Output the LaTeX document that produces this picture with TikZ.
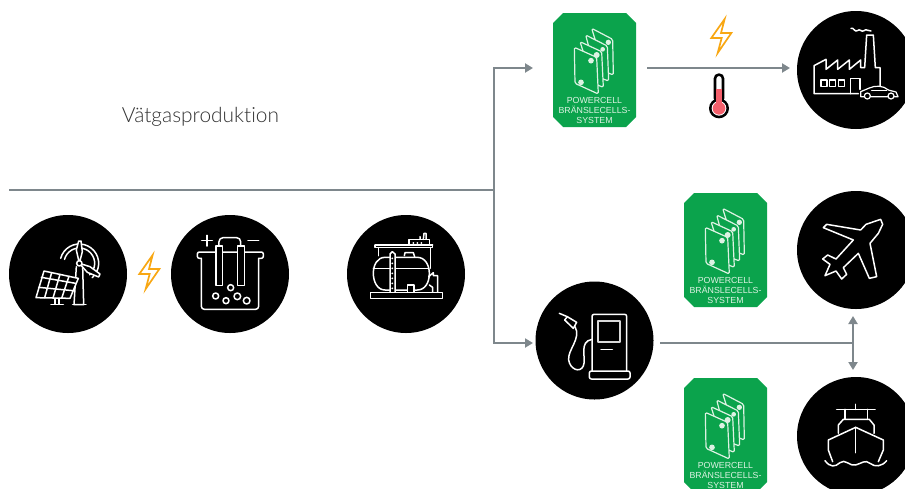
\documentclass[tikz,border=0pt]{standalone}
\usepackage{fontspec}
\setmainfont{Lato Light}[BoldFont=Lato,Ligatures=NoCommon]
\newfontfamily\cellfont{Liberation Sans}
\usetikzlibrary{arrows.meta}
\definecolor{flowgrey}{HTML}{7E878C}
\definecolor{cellgreen}{HTML}{0BA34C}
\definecolor{boltorange}{HTML}{F8A713}
\definecolor{thermred}{HTML}{F4606C}
\definecolor{celltext}{HTML}{DDF2E3}
\tikzset{
  disc/.style={circle,fill=black,draw=none,minimum size=118pt,inner sep=0pt},
  flow/.style={draw=flowgrey,line width=2.2pt},
  tip/.style={-{Triangle[length=8pt,width=9pt]}},
  tiptwo/.style={{Triangle[length=8pt,width=9pt]}-{Triangle[length=8pt,width=9pt]}},
  icon/.style={draw=white,line width=1.5pt,line join=round,line cap=round},
  iconfill/.style={icon,fill=black},
  celltxt/.style={font=\cellfont\fontsize{8.8pt}{9pt}\selectfont,text=celltext,inner sep=0pt,anchor=center},
  fuelcell/.pic={
    \fill[cellgreen] (33,13) -- (96,13) -- (106,23) -- (106,117) -- (96,127) -- (33,127) -- (23,117) -- (23,23) -- cycle;
    \coordinate (box) at (64.5,70);
    \begin{scope}[scale=1/3]
      \foreach \p in {
        {(185,85)--(248,118)--(250,225)--(225,215)},
        {(167,105)--(232,138)--(236,243)--(200,230)},
        {(150,125)--(215,155)--(220,262)--(190,250)}}{
        \draw[draw=celltext,line width=1.2pt,line join=round,fill=cellgreen,rounded corners=1.5pt] \p -- cycle;
      }
      \draw[draw=celltext,line width=1.2pt,line join=round,fill=cellgreen,rounded corners=1.5pt]
        (133,142)--(200,172)--(205,282)--(135,250)--cycle;
      \fill[celltext] (183,182) circle (8.5) (153,247) circle (8.5) (200,165) circle (9) (218,148) circle (7) (235,127) circle (8);
    \end{scope}
    \node[celltxt] (l1) at (64.5,100) {POWERCELL};
    \node[celltxt] (l2) at (64.5,110) {BRÄNSLECELLS-};
    \node[celltxt] (l3) at (64.5,120) {SYSTEM};
  },
  boltpic/.pic={
    \begin{scope}[scale=1/3]
      \draw[draw=boltorange,line width=1.7pt,line join=miter]
        (458,165)--(418,222)--(449,222)--(437,267)--(478,207)--(447,207)--cycle;
    \end{scope}
  }
}
\begin{document}
\begin{tikzpicture}[x=1pt,y=-1pt]
\useasboundingbox (0,0) rectangle (905,488);
\clip (0,0) rectangle (905,488);

% named anchors
\coordinate (mainstart) at (9,190);
\coordinate (junction) at (494,190);
\coordinate (tipcell) at (533,68);
\coordinate (tippump) at (533,343);
\coordinate (cellout) at (647,68);
\coordinate (tipfactory) at (790,68);
\coordinate (pumpout) at (660,343);
\coordinate (fork) at (853,343);
\coordinate (tipup) at (853,316);
\coordinate (tipdown) at (853,370);

% discs
\node[disc] (solar) at (68,274) {};
\node[disc] (electro) at (230,274) {};
\node[disc] (storage) at (406,274) {};
\node[disc] (factory) at (856,70) {};
\node[disc] (pump) at (594.5,340.5) {};
\node[disc] (plane) at (856,250) {};
\node[disc] (ship) at (856,436) {};

% connectors
\draw[flow] (mainstart) -- (junction);
\draw[flow,tip] (junction) |- (tipcell);
\draw[flow,tip] (junction) |- (tippump);
\draw[flow,tip] (cellout) -- (tipfactory);
\draw[flow] (pumpout) -- (fork);
\draw[flow,tiptwo] (tipup) -- (tipdown);

% text
\node[inner sep=0pt,text=black!80] (title) at (200.5,116.5) {\fontsize{20.9pt}{24pt}\selectfont Vätgasproduktion};

% green cells
\pic (cella) at (530,0) {fuelcell};
\pic (cellb) at (661,180) {fuelcell};
\pic (cellc) at (661,365) {fuelcell};

% bolts
\pic (bolta) at (0,200) {boltpic};
\pic (boltb) at (572,-36) {boltpic};

% thermometer
\begin{scope}[shift={(690,0)},scale=1/3]
  \fill[black,rounded corners=5pt] (71,220) rectangle (103,310);
  \fill[black] (87,325) circle (30);
  \fill[white,rounded corners=3pt] (79,228) rectangle (95,310);
  \fill[white] (87,325) circle (22);
  \fill[thermred] (79,268) rectangle (95,315);
  \fill[thermred] (87,325) circle (19);
\end{scope}

% solar + wind
\begin{scope}[shift={(0,200)},scale=1/3]
  \draw[icon] (238,190) ++(-165:58) arc[start angle=-165,end angle=48,radius=58];
  \draw[icon] (238,190) ++(-165:46) arc[start angle=-165,end angle=48,radius=46];
  \draw[iconfill] (229,200) -- (222,314) -- (251,314) -- (248,200);
  \draw[icon] (218,314) -- (258,314);
  \draw[iconfill] (238,190) -- (229,150) -- (236,123) -- (243,123) -- (247,155) -- cycle;
  \draw[iconfill] (238,190) -- (270,200) -- (300,222) -- (296,231) -- (262,217) -- cycle;
  \draw[iconfill] (238,190) circle (8);
  \draw[iconfill] (132,213) -- (235,235) -- (210,295) -- (108,293) -- cycle;
  \draw[icon] (124,232) -- (227,250) (116,262) -- (219,272);
  \draw[icon] (155,218) -- (134,293) (180,223) -- (159,294) (207,229) -- (185,295);
  \draw[icon] (165,295) -- (165,313) (177,295) -- (177,313) (153,314) -- (190,314);
\end{scope}

% electrolyser
\begin{scope}[shift={(0,200)},scale=1/3]
  \draw[icon] (605,122) -- (637,122) (621,106) -- (621,138) (744,122) -- (776,122);
  \draw[icon,rounded corners=3pt] (604,175) -- (604,328) -- (776,328) -- (776,175);
  \draw[icon,rounded corners=2pt] (604,175) -- (592,175) -- (592,156) -- (790,156) -- (790,175) -- (776,175);
  \draw[iconfill] (648,138) rectangle (668,257);
  \draw[iconfill] (712,138) rectangle (733,257);
  \draw[icon,rounded corners=4pt] (657,138) -- (657,113) -- (722,113) -- (722,138);
  \draw[icon] (647,288) circle (9) (678,302) circle (9) (692,263) circle (9) (712,289) circle (10) (740,302) circle (10);
\end{scope}

% storage
\begin{scope}[shift={(340,210)},scale=1/3]
  \draw[icon] (105,105) -- (278,105) (105,105) -- (105,113) -- (278,113) -- (278,105);
  \draw[icon] (115,113) -- (115,137) (272,113) -- (272,175);
  \draw[icon] (207,103) -- (207,88) -- (268,88) -- (268,103);
  \draw[icon] (250,88) -- (252,70) -- (258,70) -- (258,88) (240,88) -- (240,80);
  \fill[white] (220,99) circle (3) (232,99) circle (3) (244,99) circle (3);
  \draw[icon] (193,137) -- (195,128) -- (220,128) -- (224,140);
  \draw[icon] (135,142) -- (232,142) .. controls (255,142) and (268,165) .. (268,190) .. controls (268,218) and (255,240) .. (232,240) -- (135,240) .. controls (112,240) and (100,215) .. (100,190) .. controls (100,165) and (112,142) .. (135,142) -- cycle;
  \draw[icon] (100,176) -- (266,176);
  \draw[iconfill] (150,248) -- (150,132) -- (157,125) -- (165,132) -- (165,248);
  \fill[white] (157,145) circle (3) (157,160) circle (3) (157,175) circle (3) (157,190) circle (3) (157,205) circle (3) (157,220) circle (3) (157,235) circle (3);
  \draw[iconfill] (203,248) -- (203,225) -- (222,225) -- (222,248);
  \draw[icon] (266,200) -- (280,188) -- (280,197) -- (293,197) -- (293,248);
  \draw[icon] (268,225) -- (278,232) -- (278,248);
  \draw[iconfill] (92,248) rectangle (308,265);
\end{scope}

% factory
\begin{scope}[shift={(690,0)},scale=1/3]
  \draw[icon] (505,281) -- (372,281) -- (372,197) -- (408,178) -- (408,208) -- (443,180) -- (443,208) -- (478,180) -- (478,208) -- (512,180) -- (512,203) -- (524,203) -- (530,105) -- (550,105) -- (556,203) -- (570,203) -- (570,262);
  \draw[icon] (482,281) -- (482,235) -- (510,235) -- (510,268);
  \draw[icon] (393,240) rectangle (411,260) (419,240) rectangle (437,260) (445,240) rectangle (463,260);
  \draw[icon] (483,85) .. controls (490,80) and (494,98) .. (502,92) .. controls (510,84) and (514,98) .. (522,92) .. controls (530,84) and (534,96) .. (543,93);
  \draw[iconfill,line width=1.2pt] (512,290) -- (512,275) -- (538,264) .. controls (555,256) and (580,256) .. (595,270) -- (618,276) -- (624,290) -- cycle;
  \draw[icon,line width=1pt] (545,272) -- (590,272);
  \draw[iconfill,line width=1.2pt] (532,288) circle (9) (603,288) circle (9);
\end{scope}

% pump
\begin{scope}[shift={(530,280)},scale=1/3]
  \draw[icon,rounded corners=2pt] (186,273) -- (186,103) -- (290,103) -- (290,273);
  \draw[icon,draw=white!85!black,line width=1.7pt] (204,124) rectangle (270,187);
  \draw[icon] (213,208) -- (247,208);
  \draw[icon,rounded corners=2pt] (178,273) rectangle (300,297);
  \draw[icon] (88,100) -- (112,110) -- (104,120);
  \draw[icon] (104,120) -- (130,145) -- (140,127) -- (112,110);
  \draw[icon] (135,140) .. controls (155,175) and (112,210) .. (116,240) .. controls (120,268) and (150,280) .. (160,258) .. controls (170,235) and (145,185) .. (186,178);
\end{scope}

% plane
\begin{scope}[shift={(790,185)},scale=1/3]
  \draw[icon] (272,103) -- (278,118) -- (265,145) -- (240,175) -- (260,275) -- (238,280) -- (205,205) -- (160,248) -- (170,268) -- (155,282) -- (138,258) -- (105,272) -- (120,238) -- (98,222) -- (113,210) -- (138,222) -- (190,165) -- (100,128) -- (110,118) -- (212,135) -- (228,118) -- cycle;
\end{scope}

% ship
\begin{scope}[shift={(790,370)},scale=1/3]
  \draw[icon] (197,103) -- (197,118) (140,118) -- (255,118);
  \draw[icon] (165,118) -- (165,148) (232,118) -- (232,148);
  \draw[icon] (145,190) -- (145,165) -- (160,148) -- (238,148) -- (252,165) -- (252,190);
  \draw[icon] (128,275) -- (115,240) -- (115,210) -- (197,172) -- (280,210) -- (280,240) -- (265,275);
  \draw[icon] (197,172) -- (197,248);
  \draw[icon] (105,272) .. controls (120,292) and (135,292) .. (150,278) .. controls (165,265) and (180,290) .. (197,285) .. controls (215,280) and (225,268) .. (240,280) .. controls (255,292) and (275,290) .. (290,272);
\end{scope}
\end{tikzpicture}
\end{document}
